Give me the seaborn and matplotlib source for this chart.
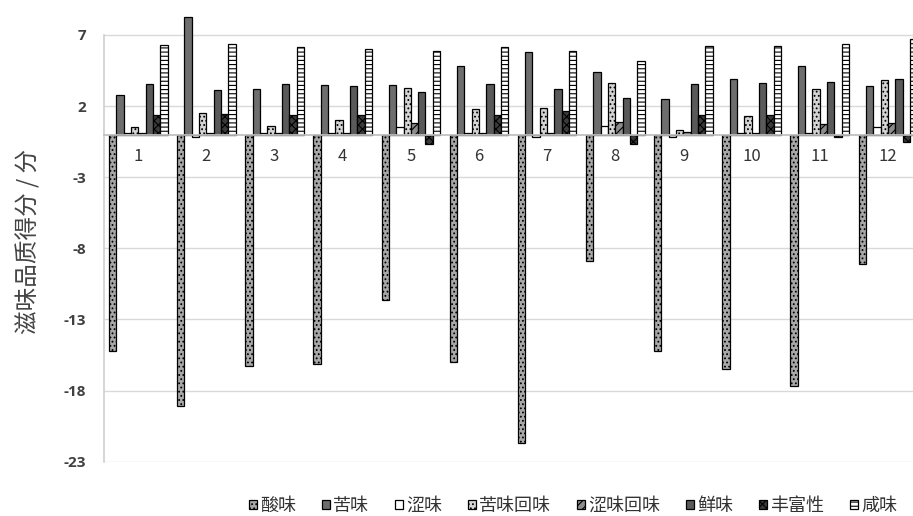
import matplotlib
matplotlib.use("Agg")
import matplotlib.pyplot as plt
import seaborn as sns
import pandas as pd

# Taste attribute scores for 12 samples
samples = [str(i) for i in range(1, 13)]
attributes = ["酸味", "苦味", "涩味", "苦味回味", "涩味回味", "鲜味", "丰富性", "咸味"]

sour = [-15.2, -19.1, -16.3, -16.1, -11.6, -16.0, -21.7, -8.9, -15.2, -16.5, -17.7, -9.1]
bitter = [2.8, 8.3, 3.2, 3.5, 3.5, 4.8, 5.8, 4.4, 2.5, 3.9, 4.8, 3.4]
astringent = [0.1, -0.2, 0.1, 0.1, 0.5, 0.1, -0.2, 0.6, -0.2, 0.1, 0.1, 0.5]
bitter_after = [0.55, 1.5, 0.6, 1.0, 3.25, 1.8, 1.9, 3.6, 0.3, 1.3, 3.2, 3.85]
astr_after = [0.1, 0.1, 0.1, 0.1, 0.8, 0.1, 0.1, 0.85, 0.15, 0.1, 0.75, 0.8]
umami = [3.55, 3.1, 3.55, 3.4, 3.0, 3.55, 3.2, 2.6, 3.55, 3.6, 3.7, 3.9]
richness = [1.4, 1.45, 1.4, 1.4, -0.65, 1.35, 1.65, -0.65, 1.35, 1.4, -0.2, -0.55]
salty = [6.3, 6.35, 6.15, 6.0, 5.85, 6.15, 5.9, 5.2, 6.25, 6.2, 6.35, 6.75]

yticks = [7, 2, -3, -8, -13, -18, -23]

series = [sour, bitter, astringent, bitter_after, astr_after, umami, richness, salty]
rows = []
for name, vals in zip(attributes, series):
    for s, v in zip(samples, vals):
        rows.append({"样品": s, "属性": name, "得分": v})
df = pd.DataFrame(rows)

sns.set_theme(style="white")
plt.rcParams["font.family"] = ["Noto Sans CJK SC", "DejaVu Sans"]
plt.rcParams["hatch.color"] = "black"
plt.rcParams["hatch.linewidth"] = 0.8

faces = ["#a8a8a8", "#6e6e6e", "#ffffff", "#d4d4d4", "#8c8c8c", "#5a5a5a", "#3a3a3a", "#ffffff"]
hatches = ["....", None, None, "....", "////", None, "xxxx", "----"]

fig = plt.figure(figsize=(9.13, 5.16), dpi=100)
ax = fig.add_axes([0.1141, 0.1052, 0.8957, 0.8948])

sns.barplot(data=df, x="样品", y="得分", hue="属性", order=samples,
            hue_order=attributes, palette=faces, width=0.86, gap=0,
            saturation=1, legend=False, ax=ax)

for cont, h in zip(ax.containers, hatches):
    for p in cont.patches:
        p.set_edgecolor("black")
        p.set_linewidth(0.9)
        if h:
            p.set_hatch(h)

ax.set_ylim(-23, 9.46)
ax.set_xlim(-0.5, 11.5)
ax.set_yticks(yticks)
ax.set_yticklabels([str(t) for t in yticks], fontfamily="Open Sans",
                   fontweight="bold", fontsize=11, color="#404040")
ax.yaxis.grid(True, color="#d9d9d9", linewidth=1)
ax.set_axisbelow(True)

for side in ["top", "right"]:
    ax.spines[side].set_visible(False)
ax.spines["left"].set_color("#d0d0d0")
ax.spines["left"].set_bounds(-23, 7)
ax.spines["bottom"].set_position(("data", 0))
ax.spines["bottom"].set_color("#bfbfbf")
ax.tick_params(axis="y", length=0, pad=13)
ax.tick_params(axis="x", length=0, pad=10, labelsize=12, labelcolor="#333333")
ax.set_xlabel("")
ax.set_ylabel("滋味品质得分 / 分", fontsize=17, color="#444444")
ax.yaxis.set_label_coords(-0.078, 0.478)

fig.legend(list(ax.containers), attributes, loc="center",
           bbox_to_anchor=(573 / 913, 1 - 506 / 516), ncol=8, frameon=False,
           handlelength=0.45, handleheight=0.45, handletextpad=0.15,
           columnspacing=1.45, fontsize=13, labelcolor="#333333")

fig.savefig("out.png", dpi=100)
